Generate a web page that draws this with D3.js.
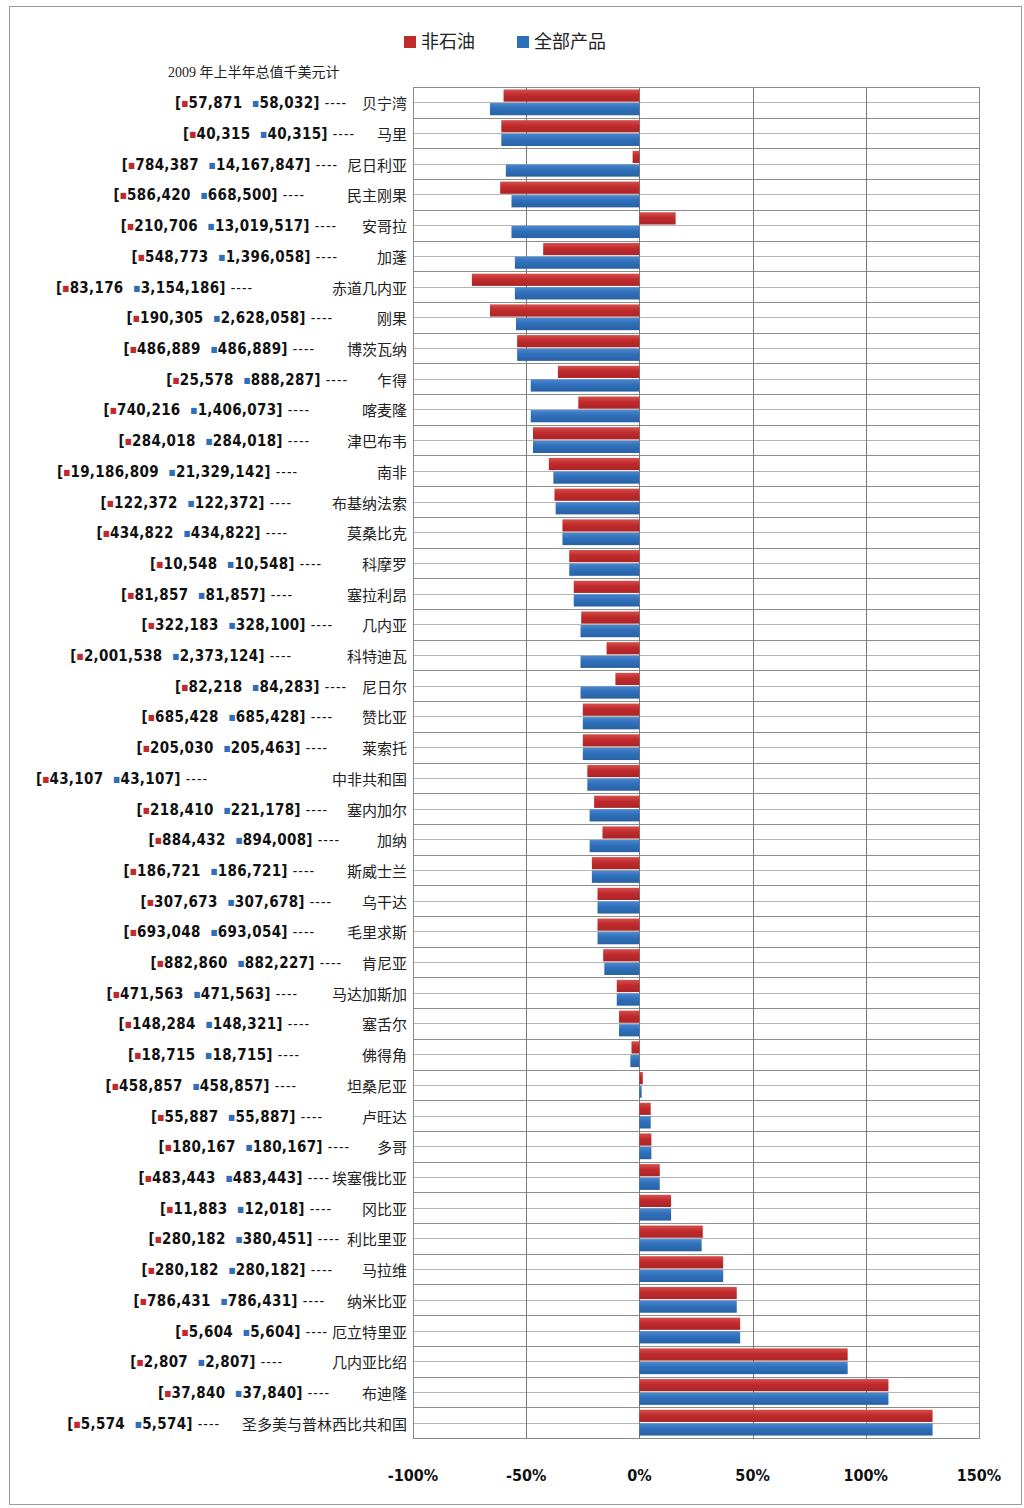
<!DOCTYPE html>
<html>
<head>
<meta charset="utf-8">
<script src="https://cdn.jsdelivr.net/npm/d3@7/dist/d3.min.js"></script>
<style>
  body { margin: 0; background: #fff; }
</style>
</head>
<body>
<div id="chart"></div>
<script>
// --- data ---
const countries = ["贝宁湾","马里","尼日利亚","民主刚果","安哥拉","加蓬","赤道几内亚","刚果","博茨瓦纳","乍得",
  "喀麦隆","津巴布韦","南非","布基纳法索","莫桑比克","科摩罗","塞拉利昂","几内亚","科特迪瓦","尼日尔",
  "赞比亚","莱索托","中非共和国","塞内加尔","加纳","斯威士兰","乌干达","毛里求斯","肯尼亚","马达加斯加",
  "塞舌尔","佛得角","坦桑尼亚","卢旺达","多哥","埃塞俄比亚","冈比亚","利比里亚","马拉维","纳米比亚",
  "厄立特里亚","几内亚比绍","布迪隆","圣多美与普林西比共和国"];

// change in %, non-oil (red) and all products (blue)
const nonOilPct = [-60,-61,-3,-61.5,16,-42.5,-74,-66,-54,-36,
  -27,-47,-40,-37.5,-34,-31,-29,-25.7,-14.5,-10.6,
  -25,-25,-23,-20,-16.3,-21,-18.5,-18.5,-16,-10,
  -9,-3.5,1.5,5,5.3,9,14,28,37,43,
  44.5,92,110,129.5];
const allPct = [-66,-61,-59,-56.5,-56.5,-55,-55,-54.5,-54,-48,
  -48,-47,-38,-37,-34,-31,-29,-26,-26,-26,
  -25,-25,-23,-22,-22,-21,-18.5,-18.5,-15.5,-10,
  -9,-4,1,5,5.3,9,14,27.5,37,43,
  44.5,92,110,129.5];

// H1 2009 totals, thousand USD
const nonOilValue = [57871,40315,784387,586420,210706,548773,83176,190305,486889,25578,
  740216,284018,19186809,122372,434822,10548,81857,322183,2001538,82218,
  685428,205030,43107,218410,884432,186721,307673,693048,882860,471563,
  148284,18715,458857,55887,180167,483443,11883,280182,280182,786431,
  5604,2807,37840,5574];
const allValue = [58032,40315,14167847,668500,13019517,1396058,3154186,2628058,486889,888287,
  1406073,284018,21329142,122372,434822,10548,81857,328100,2373124,84283,
  685428,205463,43107,221178,894008,186721,307678,693054,882227,471563,
  148321,18715,458857,55887,180167,483443,12018,380451,280182,786431,
  5604,2807,37840,5574];

const seriesNames = ["非石油","全部产品"];
const tickValues = [-100,-50,0,50,100,150];

// where each hand-placed bracket tag ends (annotation layout)
const tagEnd = [347,355,338,305,337,338,253,333,315,348,
  310,310,298,292,288,322,293,333,292,347,
  333,328,208,328,340,315,332,315,342,298,
  310,300,297,323,350,330,332,340,333,325,
  328,283,330,220];

// --- layout ---
const width = 1024, height = 1508;
const plot = {left: 413, right: 979, top: 87, bottom: 1438};
const red = "#c12a2c", blue = "#2f6fba";
const cjk = "'Liberation Serif', 'Noto Sans CJK SC', serif";
const tagFont = "'DejaVu Sans Condensed', 'DejaVu Sans', sans-serif";

const svg = d3.select("#chart").append("svg")
    .attr("width", width).attr("height", height);

svg.append("rect")
   .attr("x", 9.5).attr("y", 6.5)
   .attr("width", 1012).attr("height", 1498)
   .attr("fill", "#fff").attr("stroke", "#9a9a9a");

const x = d3.scaleLinear().domain([-100, 150]).range([plot.left, plot.right]);
const y = d3.scaleBand().domain(countries).range([plot.top, plot.bottom])
            .paddingInner(0.16).paddingOuter(0.08);
const ys = d3.scaleBand().domain(seriesNames).range([0, y.bandwidth()]).paddingInner(0.1);

const g = svg.append("g");

// plot background + horizontal grid every half row
g.append("rect")
 .attr("x", plot.left).attr("y", plot.top)
 .attr("width", plot.right - plot.left).attr("height", plot.bottom - plot.top)
 .attr("fill", "#fff");

g.selectAll("line.hgrid")
 .data(d3.range(0, countries.length * 2 + 1))
 .enter().append("line")
 .attr("class", "hgrid")
 .attr("x1", plot.left).attr("x2", plot.right)
 .attr("y1", k => Math.round(plot.top + k * y.step() / 2) + 0.5)
 .attr("y2", k => Math.round(plot.top + k * y.step() / 2) + 0.5)
 .attr("stroke", k => k % 2 === 0 ? "#8c8c8c" : "#b4b4b4")
 .attr("stroke-width", 1);

g.selectAll("line.vgrid")
 .data(tickValues.slice(1, -1))
 .enter().append("line")
 .attr("class", "vgrid")
 .attr("x1", d => Math.round(x(d)) + 0.5).attr("x2", d => Math.round(x(d)) + 0.5)
 .attr("y1", plot.top).attr("y2", plot.bottom)
 .attr("stroke", "#7a7a7a");

// gradients for the Excel-ish bar look
const defs = svg.append("defs");
[["gRed", red, "#d4504c"], ["gBlue", blue, "#4a88cf"]].forEach(function (c) {
    const lg = defs.append("linearGradient").attr("id", c[0])
                   .attr("x1", 0).attr("y1", 0).attr("x2", 0).attr("y2", 1);
    lg.append("stop").attr("offset", "0%").attr("stop-color", c[2]);
    lg.append("stop").attr("offset", "45%").attr("stop-color", c[1]);
    lg.append("stop").attr("offset", "100%").attr("stop-color", d3.color(c[1]).darker(0.35));
});

const rows = countries.map((c, i) => ({name: c, vals: [nonOilPct[i], allPct[i]]}));

const row = g.selectAll("g.row")
   .data(rows)
   .enter().append("g")
   .attr("class", "row")
   .attr("transform", d => `translate(0,${y(d.name)})`);

row.selectAll("rect")
   .data(d => d.vals.map((v, j) => ({s: seriesNames[j], v: v})))
   .enter().append("rect")
   .attr("x", d => x(Math.min(0, d.v)))
   .attr("width", d => Math.abs(x(d.v) - x(0)))
   .attr("y", d => ys(d.s))
   .attr("height", ys.bandwidth())
   .attr("fill", d => d.s === seriesNames[0] ? "url(#gRed)" : "url(#gBlue)");

g.append("rect")
 .attr("x", plot.left + 0.5).attr("y", plot.top + 0.5)
 .attr("width", plot.right - plot.left).attr("height", plot.bottom - plot.top)
 .attr("fill", "none").attr("stroke", "#8a8a8a");

// x tick labels
g.selectAll("text.tick")
 .data(tickValues)
 .enter().append("text")
 .attr("class", "tick")
 .attr("x", d => x(d))
 .attr("y", 1481)
 .attr("text-anchor", "middle")
 .style("font-family", tagFont)
 .style("font-weight", "bold")
 .style("font-size", "16px")
 .style("fill", "#111")
 .text(d => d + "%");

// country names
const mid = d => y(d) + y.bandwidth() / 2;
g.selectAll("text.cname")
 .data(countries)
 .enter().append("text")
 .attr("class", "cname")
 .attr("x", 407)
 .attr("y", d => mid(d) + 7)
 .attr("text-anchor", "end")
 .style("font-family", cjk)
 .style("font-size", "15px")
 .style("fill", "#222")
 .text(d => d);

// bracketed value tags
const fmt = d3.format(",");
const tag = g.selectAll("text.tag")
 .data(countries)
 .enter().append("text")
 .attr("class", "tag")
 .attr("x", (d, i) => tagEnd[i])
 .attr("y", d => mid(d) + 6)
 .attr("text-anchor", "end")
 .style("font-family", tagFont)
 .style("font-weight", "bold")
 .style("font-size", "15px")
 .style("letter-spacing", "0.3px")
 .style("fill", "#111");

tag.each(function (d, i) {
    const t = d3.select(this);
    t.append("tspan").text("[");
    t.append("tspan").style("fill", red).style("font-size", "8px").attr("dy", -2).text("■");
    t.append("tspan").attr("dy", 2).text(fmt(nonOilValue[i]) + "\u00a0\u00a0");
    t.append("tspan").style("fill", blue).style("font-size", "8px").attr("dy", -2).text("■");
    t.append("tspan").attr("dy", 2).text(fmt(allValue[i]) + "]");
    t.append("tspan").style("font-weight", "normal").style("font-size", "14px")
     .style("letter-spacing", "1px").text(" ----");
});

// subtitle
svg.append("text")
   .attr("x", 168).attr("y", 77)
   .style("font-family", cjk)
   .style("font-size", "14px")
   .style("fill", "#222")
   .text("2009 年上半年总值千美元计");

// legend
const legend = svg.selectAll("g.legend")
   .data(seriesNames)
   .enter().append("g")
   .attr("class", "legend")
   .attr("transform", (d, i) => `translate(${i === 0 ? 404 : 517},36)`);

legend.append("rect")
   .attr("width", 12).attr("height", 12)
   .attr("fill", (d, i) => i === 0 ? red : blue);

legend.append("text")
   .attr("x", 17).attr("y", 12)
   .style("font-family", cjk)
   .style("font-size", "18px")
   .style("fill", "#222")
   .text(d => d);
</script>
</body>
</html>
